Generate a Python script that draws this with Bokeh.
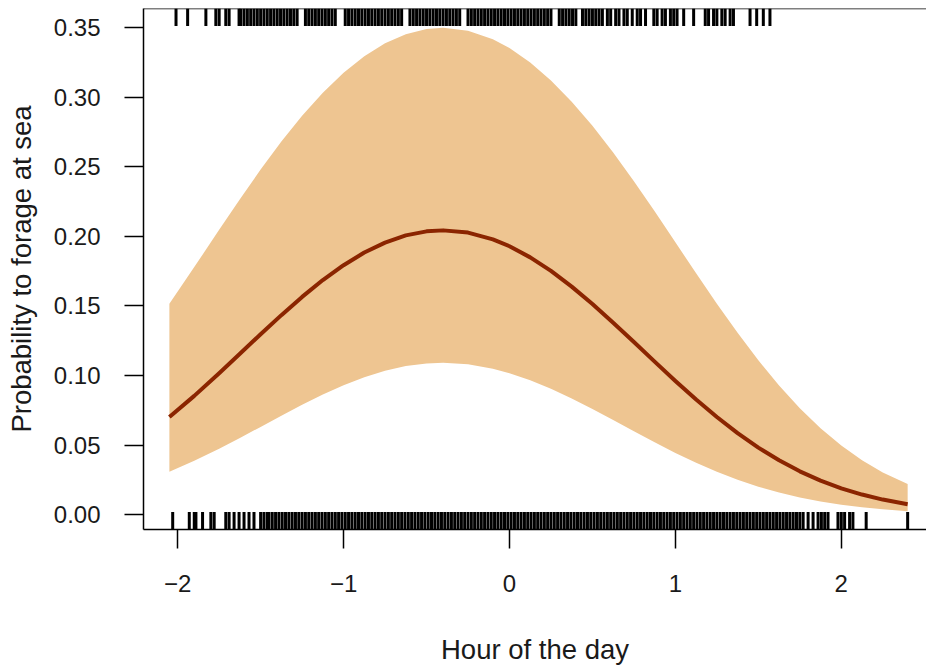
from bokeh.plotting import figure
from bokeh.models import Range1d, FixedTicker, Span
from bokeh.embed import file_html
from bokeh.resources import INLINE

# ---- data ----
hour = [-2.05, -1.9, -1.75, -1.625, -1.5, -1.375, -1.25, -1.125, -1.0, -0.875, -0.75,
        -0.625, -0.5, -0.4, -0.25, -0.1, 0.0, 0.125, 0.25, 0.375, 0.5, 0.625, 0.75,
        0.875, 1.0, 1.125, 1.25, 1.375, 1.5, 1.625, 1.75, 1.875, 2.0, 2.125, 2.25, 2.4]
fit = [0.0701, 0.0853, 0.1016, 0.1156, 0.1296, 0.1433, 0.1564, 0.1685, 0.1792, 0.1883,
       0.1954, 0.2006, 0.2035, 0.2042, 0.2026, 0.1977, 0.1928, 0.1848, 0.1751, 0.1638,
       0.1513, 0.1379, 0.1240, 0.1099, 0.0960, 0.0827, 0.0701, 0.0585, 0.0481, 0.0390,
       0.0311, 0.0244, 0.0189, 0.0144, 0.0108, 0.0075]
upper = [0.1515, 0.1778, 0.2046, 0.2266, 0.2479, 0.2680, 0.2865, 0.3031, 0.3174, 0.3293,
         0.3386, 0.3451, 0.3489, 0.3498, 0.3477, 0.3415, 0.3352, 0.3248, 0.3119, 0.2966,
         0.2793, 0.2601, 0.2395, 0.2179, 0.1956, 0.1734, 0.1515, 0.1306, 0.1109, 0.0927,
         0.0764, 0.0620, 0.0496, 0.0391, 0.0303, 0.0220]
lower = [0.0308, 0.0387, 0.0473, 0.0551, 0.0630, 0.0711, 0.0789, 0.0863, 0.0929, 0.0987,
         0.1033, 0.1067, 0.1086, 0.1091, 0.1080, 0.1048, 0.1016, 0.0965, 0.0904, 0.0834,
         0.0758, 0.0679, 0.0598, 0.0519, 0.0443, 0.0373, 0.0308, 0.0251, 0.0201, 0.0158,
         0.0123, 0.0094, 0.0070, 0.0052, 0.0038, 0.0025]

# observations that foraged at sea (top rug)
rug_sea = [-2.01, -1.94, -1.83, -1.77, -1.75, -1.71, -1.69, -1.63,
           -1.62, -1.60, -1.58, -1.56, -1.54, -1.52, -1.50, -1.48, -1.46, -1.44, -1.42,
           -1.40, -1.38, -1.36, -1.34, -1.32, -1.30, -1.28, -1.23, -1.21, -1.19, -1.17,
           -1.15, -1.13, -1.11, -1.09, -1.07, -1.05, -0.99, -0.97, -0.95, -0.93, -0.91,
           -0.89, -0.87, -0.85, -0.83, -0.81, -0.79, -0.77, -0.75, -0.73, -0.71, -0.69,
           -0.67, -0.65, -0.60, -0.58, -0.56, -0.54, -0.52, -0.50, -0.48, -0.46, -0.44,
           -0.42, -0.40, -0.38, -0.36, -0.34, -0.32, -0.30, -0.25, -0.23, -0.21, -0.19,
           -0.17, -0.15, -0.13, -0.11, -0.09, -0.07, -0.05, -0.03, -0.01, 0.01, 0.03,
           0.05, 0.07, 0.09, 0.11, 0.13, 0.15, 0.17, 0.19, 0.21, 0.23, 0.25, 0.30, 0.32,
           0.34, 0.36, 0.38, 0.40, 0.44, 0.46, 0.48, 0.50, 0.52, 0.54, 0.56, 0.59, 0.61,
           0.64, 0.66, 0.69, 0.71, 0.74, 0.77, 0.79, 0.82, 0.87, 0.89, 0.92, 0.94, 0.97,
           0.99, 1.01, 1.05, 1.11, 1.18, 1.20, 1.23, 1.25, 1.28, 1.30, 1.33, 1.35, 1.45,
           1.49, 1.53, 1.57]

# observations that did not forage at sea (bottom rug)
rug_other = [-2.03, -1.93, -1.90, -1.89, -1.85, -1.80, -1.78, -1.71, -1.69, -1.66, -1.63,
             -1.60, -1.57, -1.54,
             -1.50, -1.48, -1.46, -1.45, -1.43, -1.41, -1.39, -1.37, -1.35, -1.33, -1.31,
             -1.29, -1.27, -1.25, -1.23, -1.21, -1.19, -1.17, -1.15, -1.13, -1.11, -1.09,
             -1.07, -1.05, -1.03, -1.01, -0.99, -0.97, -0.95, -0.93, -0.91, -0.89, -0.87,
             -0.85, -0.83, -0.81, -0.79, -0.77, -0.75, -0.73, -0.71, -0.69, -0.67, -0.65,
             -0.63, -0.61, -0.59, -0.57, -0.55, -0.53, -0.51, -0.49, -0.47, -0.45, -0.43,
             -0.41, -0.39, -0.37, -0.35, -0.33, -0.31, -0.29, -0.27, -0.25, -0.23, -0.21,
             -0.19, -0.17, -0.15, -0.13, -0.11, -0.09, -0.07, -0.05, -0.03, -0.01, 0.01,
             0.03, 0.05, 0.07, 0.09, 0.11, 0.13, 0.15, 0.17, 0.19, 0.21, 0.23, 0.25, 0.27,
             0.29, 0.31, 0.33, 0.35, 0.37, 0.39, 0.41, 0.43, 0.45, 0.47, 0.49, 0.51, 0.53,
             0.55, 0.57, 0.59, 0.61, 0.63, 0.65, 0.67, 0.69, 0.71, 0.73, 0.75, 0.77, 0.79,
             0.81, 0.83, 0.85, 0.87, 0.89, 0.91, 0.93, 0.95, 0.97, 0.99, 1.01, 1.03, 1.05,
             1.07, 1.09, 1.11, 1.13, 1.15, 1.17, 1.19, 1.21, 1.23, 1.25, 1.27, 1.29, 1.31,
             1.33, 1.35, 1.37, 1.39, 1.41, 1.43, 1.45, 1.47, 1.49, 1.51, 1.53, 1.55, 1.57,
             1.59, 1.61, 1.63, 1.65, 1.67, 1.69, 1.71, 1.73,
             1.75, 1.77, 1.80, 1.83, 1.86, 1.88, 1.90, 1.92, 1.98, 2.00, 2.02, 2.05, 2.07,
             2.15, 2.40]

x_ticks = [-2, -1, 0, 1, 2]
x_tick_labels = ["\u22122", "\u22121", "0", "1", "2"]
y_ticks = [0.0, 0.05, 0.10, 0.15, 0.20, 0.25, 0.30, 0.35]
y_tick_labels = ["0.00", "0.05", "0.10", "0.15", "0.20", "0.25", "0.30", "0.35"]

X0, X1 = -2.206, 2.5136
Y0, Y1 = -0.0107, 0.3636
RUG = 0.0125

FONT = "Liberation Sans"
TXT = "#1a1a1a"

p = figure(width=926, height=667, output_backend="svg", toolbar_location=None,
           x_range=Range1d(X0, X1), y_range=Range1d(Y0, Y1),
           min_border_left=143, min_border_right=0, min_border_top=8,
           min_border_bottom=136)
p.background_fill_color = "white"
p.border_fill_color = "white"
p.outline_line_color = None
p.grid.visible = False

p.varea(x=hour, y1=lower, y2=upper, fill_color="#EEC591", fill_alpha=1.0)
p.line(hour, fit, line_color="#8B2500", line_width=4, line_join="round")

p.segment(x0=rug_other, x1=rug_other, y0=Y0, y1=Y0 + RUG,
          line_color="black", line_width=3)
p.segment(x0=rug_sea, x1=rug_sea, y0=Y1, y1=Y1 - RUG,
          line_color="black", line_width=3)

p.add_layout(Span(location=Y1, dimension="width", line_color="black", line_width=1.5))

for ax in (p.xaxis[0], p.yaxis[0]):
    ax.axis_line_color = "black"
    ax.axis_line_width = 1.5
    ax.major_tick_line_color = "black"
    ax.major_tick_line_width = 1.5
    ax.major_tick_out = 19
    ax.major_tick_in = 0
    ax.minor_tick_line_color = None
    ax.major_label_text_font = FONT
    ax.major_label_text_font_size = "24px"
    ax.major_label_text_color = TXT
    ax.axis_label_text_font = FONT
    ax.axis_label_text_font_size = "27.5px"
    ax.axis_label_text_font_style = "normal"
    ax.axis_label_text_color = TXT

p.xaxis.ticker = FixedTicker(ticks=x_ticks)
p.xaxis.major_label_overrides = dict(zip(x_ticks, x_tick_labels))
p.yaxis.ticker = FixedTicker(ticks=y_ticks)
p.yaxis.major_label_overrides = dict(zip(y_ticks, y_tick_labels))

p.xaxis.axis_label = "Hour of the day"
p.yaxis.axis_label = "Probability to forage at sea"
p.xaxis.major_label_standoff = 26
p.xaxis.axis_label_standoff = 39
p.yaxis.major_label_standoff = 24
p.yaxis.axis_label_standoff = 14

open("out.html", "w").write(file_html(p, INLINE))
